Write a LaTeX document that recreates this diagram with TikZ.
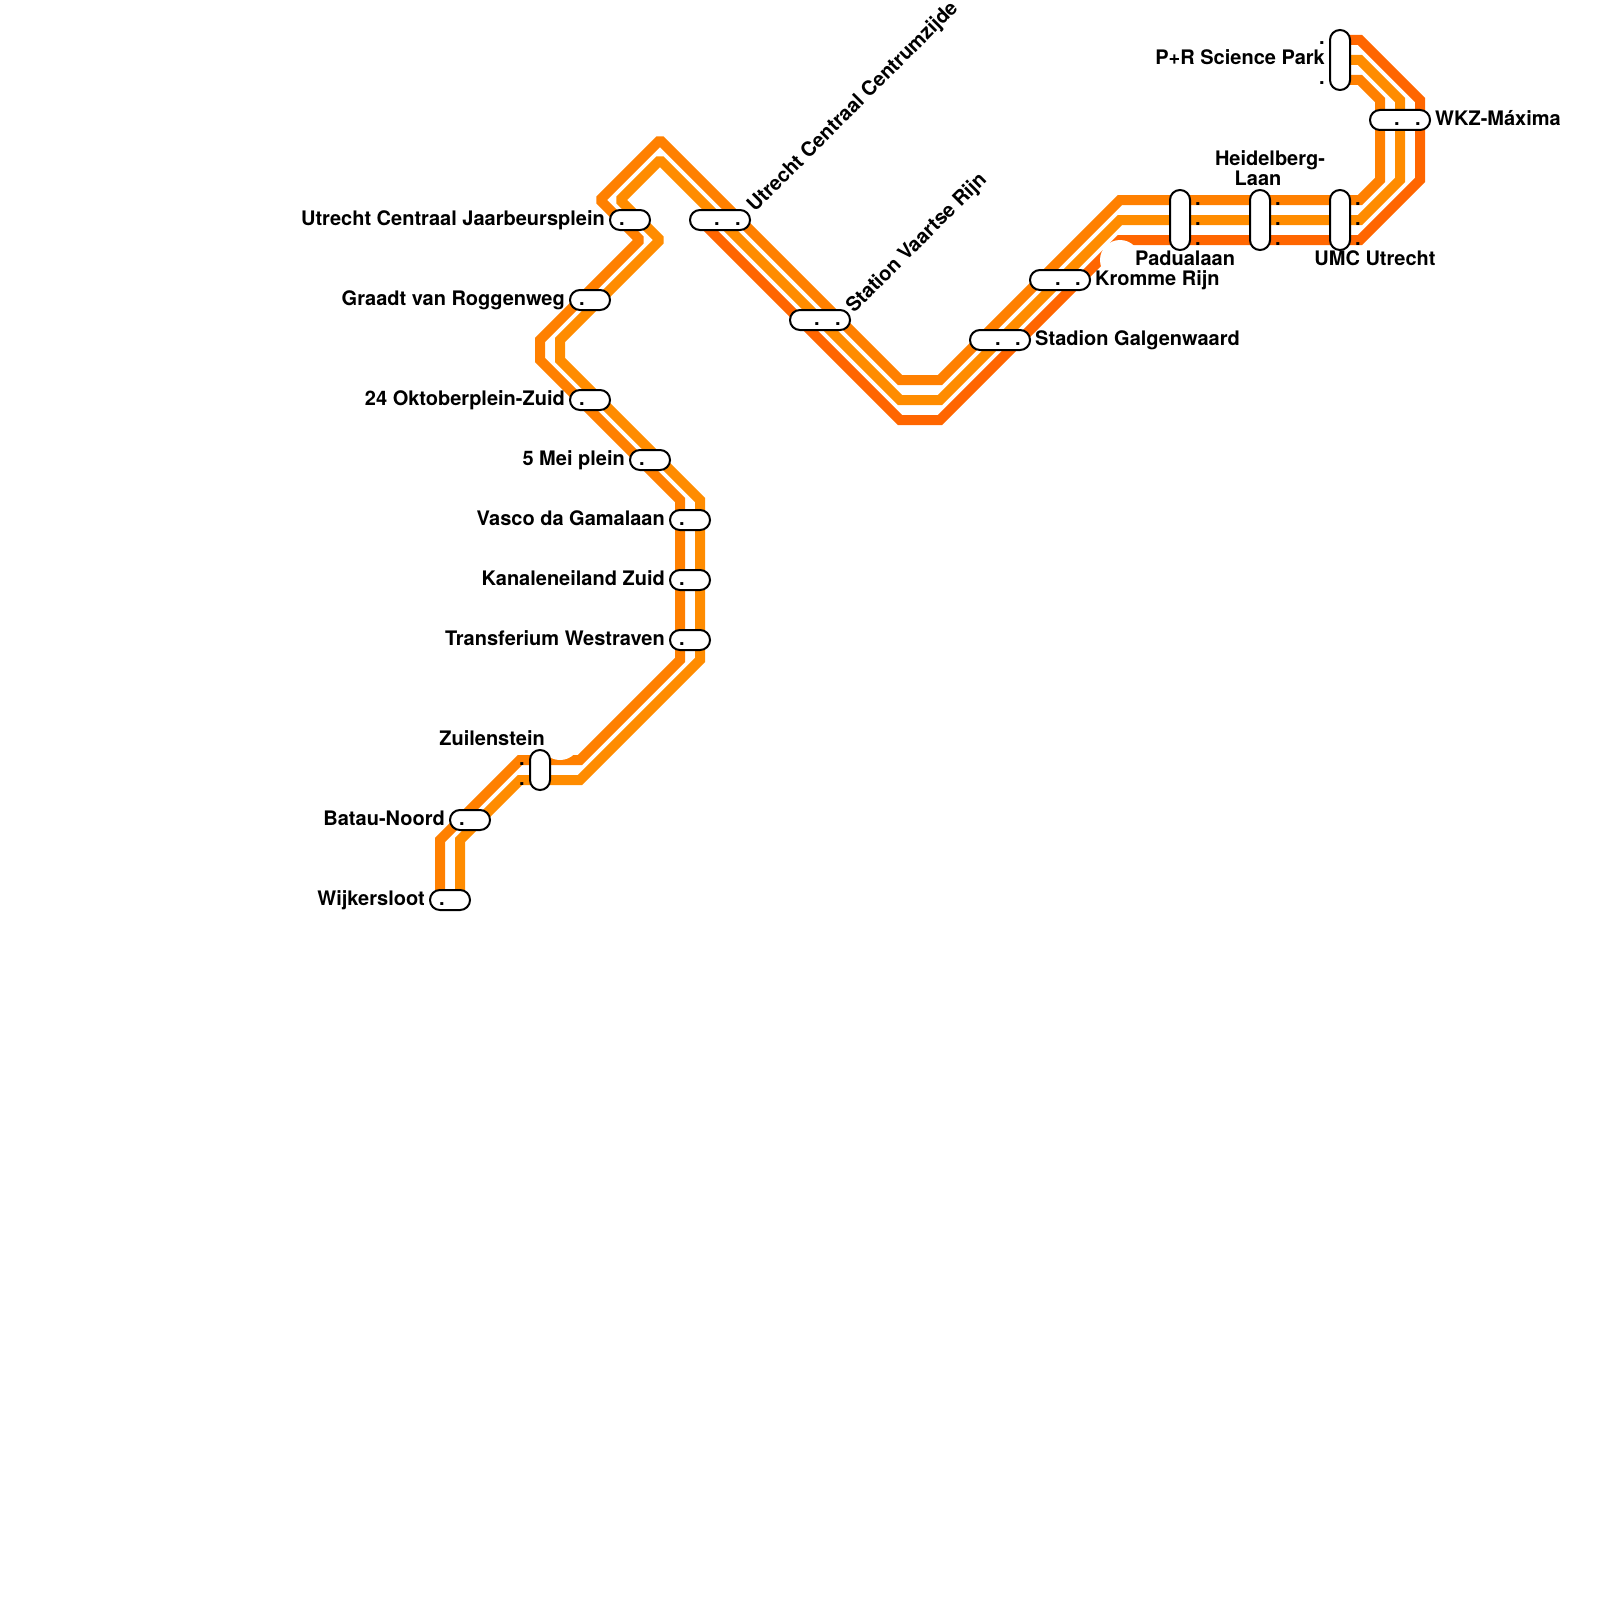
\documentclass[tikz,border=0pt]{standalone}
\usepackage{fontspec}
\setmainfont{TeX Gyre Heros}
\definecolor{lineA}{RGB}{255,128,0}
\definecolor{lineB}{RGB}{255,140,0}
\definecolor{lineC}{RGB}{255,102,0}
\tikzset{
  route/.style={line width=10pt,line cap=butt,line join=miter,miter limit=1.2,preaction={draw,line join=round}},
  pill/.style={draw=black,fill=white,line width=2pt,rounded corners=9.9pt,inner sep=0pt,outer sep=0pt},
  hpill/.style={pill,minimum width=40pt,minimum height=20pt},
  wpill/.style={pill,minimum width=60pt,minimum height=20pt},
  vpill/.style={pill,minimum width=20pt,minimum height=60pt},
  spill/.style={pill,minimum width=20pt,minimum height=40pt},
  lbl/.style={inner sep=0pt,font=\bfseries\fontsize{20}{20}\selectfont},
  lbe/.style={lbl,anchor=base east},
  lbw/.style={lbl,anchor=base west},
  lbc/.style={lbl,anchor=base},
  dotmark/.style={lbl,anchor=base},
  halo/.style={fill=white,draw=none}
}
\begin{document}
\begin{tikzpicture}[x=1pt,y=-1pt]
\useasboundingbox (0,0) rectangle (1600,1600);
\coordinate (aStart) at (440,900);
\coordinate (bStart) at (460,900);
\coordinate (cStart) at (700,220);
\coordinate (aEnd) at (1340,80);
\coordinate (bEnd) at (1340,60);
\coordinate (cEnd) at (1340,40);
\draw[route,lineA] (aStart) -- (440,840) -- (520,760) -- (580,760) -- (680,660) -- (680,500) -- (540,360) -- (540,340) -- (640,240) -- (600,200) -- (660,140) -- (900,380) -- (940,380) -- (1120,200) -- (1360,200) -- (1380,180) -- (1380,100) -- (1360,80) -- (aEnd);
\draw[route,lineB] (bStart) -- (460,840) -- (520,780) -- (580,780) -- (700,660) -- (700,500) -- (560,360) -- (560,340) -- (660,240) -- (620,200) -- (660,160) -- (900,400) -- (940,400) -- (1120,220) -- (1360,220) -- (1400,180) -- (1400,100) -- (1360,60) -- (bEnd);
\draw[route,lineC] (cStart) -- (900,420) -- (940,420) -- (1120,240) -- (1360,240) -- (1420,180) -- (1420,100) -- (1360,40) -- (cEnd);
\fill[halo] (560,740) circle (20pt);
\fill[halo] (1120,260) circle (20pt);
% stations
\node[hpill] (jaar) at (630,220) {};
\node[hpill] (graadt) at (590,300) {};
\node[hpill] (okt) at (590,400) {};
\node[hpill] (mei) at (650,460) {};
\node[hpill] (vasco) at (690,520) {};
\node[hpill] (kanaal) at (690,580) {};
\node[hpill] (west) at (690,640) {};
\node[spill] (zuil) at (540,770) {};
\node[hpill] (batau) at (470,820) {};
\node[hpill] (wijk) at (450,900) {};
\node[wpill] (centrum) at (720,220) {};
\node[wpill] (vaartse) at (820,320) {};
\node[wpill] (galgen) at (1000,340) {};
\node[wpill] (kromme) at (1060,280) {};
\node[vpill] (padua) at (1180,220) {};
\node[vpill] (heidel) at (1260,220) {};
\node[vpill] (umc) at (1340,220) {};
\node[vpill] (science) at (1340,60) {};
\node[wpill] (wkz) at (1400,120) {};
% labels
\node[lbe] (tJaar) at (605,225) {Utrecht Centraal Jaarbeursplein};
\node[lbe] (tGraadt) at (565,305) {Graadt van Roggenweg};
\node[lbe] (tOkt) at (565,405) {24 Oktoberplein-Zuid};
\node[lbe] (tMei) at (625,465) {5 Mei plein};
\node[lbe] (tVasco) at (665,525) {Vasco da Gamalaan};
\node[lbe] (tKanaal) at (665,585) {Kanaleneiland Zuid};
\node[lbe] (tWest) at (665,645) {Transferium Westraven};
\node[lbe] (tZuil) at (545,745) {Zuilenstein};
\node[lbe] (tBatau) at (445,825) {Batau-Noord};
\node[lbe] (tWijk) at (425,905) {Wijkersloot};
\node[lbe] (tScience) at (1325,65) {P+R Science Park};
\node[lbw] (tWkz) at (1435,125) {WKZ-Máxima};
\node[lbw] (tKromme) at (1095,285) {Kromme Rijn};
\node[lbw] (tGalgen) at (1035,345) {Stadion Galgenwaard};
\node[lbc] (tPadua) at (1185,265) {Padualaan};
\node[lbc] (tUmc) at (1375,265) {UMC Utrecht};
\node[lbl,align=center,anchor=south] (tHeidel) at (1270,185.5) {Heidelberg-\\Laan\hspace*{24pt}};
\node[lbw,rotate=45] (tCentrum) at (755,213) {Utrecht Centraal Centrumzijde};
\node[lbw,rotate=45] (tVaartse) at (854,314) {Station Vaartse Rijn};
% dots
\foreach \px/\py in {622/225,582/305,582/405,642/465,682/525,682/585,682/645,522/765,522/785,462/825,442/905,
 717/225,738/225,817/325,838/325,998/345,1018/345,1058/285,1078/285,1397/125,1418/125,1322/45,1322/85,
 1198/205,1198/225,1198/245,1278/205,1278/225,1278/245,1358/205,1358/225,1358/245}
  \node[dotmark] at (\px,\py) {.};
\end{tikzpicture}
\end{document}
